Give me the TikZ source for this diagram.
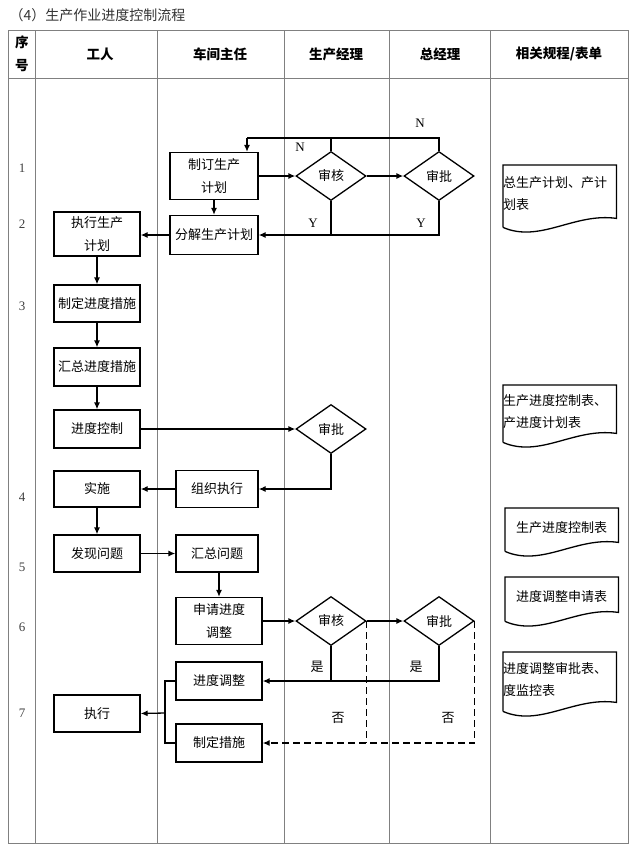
\documentclass[tikz,border=0pt]{standalone}
\usepackage{fontspec}
\setmainfont{Liberation Serif}
\newfontfamily\cjk{Noto Sans CJK SC}
\usetikzlibrary{shapes.geometric, arrows.meta}

\begin{document}
\begin{tikzpicture}[x=1pt, y=-1pt,
        box/.style={draw, line width=1.3pt, align=center, inner sep=0pt,
            minimum width=86pt, minimum height=37pt, font=\cjk\fontsize{13}{23}\selectfont},
        chk/.style={draw, diamond, aspect=1.4, line width=1.3pt, inner sep=0pt,
            minimum width=70pt, minimum height=49pt, font=\cjk\fontsize{13}{15}\selectfont},
        doc/.style={inner sep=0pt, text width=113pt, anchor=north west,
            font=\cjk\fontsize{13}{22}\selectfont},
        flow/.style={line width=1.3pt, -{Latex[length=7pt,width=6pt]}},
        link/.style={line width=1.3pt},
        nodash/.style={dash pattern=on 7pt off 4pt},
        lbl/.style={font=\fontsize{13}{15}\selectfont},
        head/.style={font=\cjk\bfseries\fontsize{13.5}{23}\selectfont, align=center},
        grid/.style={draw=gray, line width=0.8pt}]
        \useasboundingbox (0,0) rectangle (640,849);

        % Draw the table
        \node[anchor=west, text=black!80, font=\cjk\fontsize{14}{16}\selectfont] (title) at (6,15) {（4）生产作业进度控制流程};
        \draw[grid] (8,30) rectangle (628,843);
        \draw[grid] (8,78) -- (628,78);
        \foreach \x in {35,157,284,389,490}
            \draw[grid] (\x,30) -- (\x,843);
        \node[head] (hno) at (22,54) {序\\号};
        \node[head] (hwk) at (100,54) {工人};
        \node[head] (hcj) at (220,54) {车间主任};
        \node[head] (hsc) at (336,54) {生产经理};
        \node[head] (hzj) at (440,54) {总经理};
        \node[head] (hbd) at (559,54) {相关规程/表单};

        % Row numbers
        \foreach \n/\y in {1/168,2/224,3/306,4/497,5/567,6/627,7/713}
            \node[lbl, text=black!75] (row\n) at (22,\y) {\n};

        % Plan
        \node[box, minimum width=88pt, minimum height=47pt] (zd) at (214,176) {制订生产\\计划};
        \node[chk] (sh1) at (331,176) {审核};
        \node[chk] (sp1) at (439,176) {审批};
        \node[box, minimum width=88pt, minimum height=39pt] (fj) at (214,235) {分解生产计划};
        \node[box, minimum height=44pt] (zx) at (97,234) {执行生产\\计划};
        \node[box] (cs1) at (97,303.5) {制定进度措施};
        \node[box, minimum height=38pt] (hz1) at (97,367) {汇总进度措施};
        \node[box, minimum height=38pt] (kz) at (97,429) {进度控制};
        \node[chk] (sp2) at (331,429) {审批};
        \node[box, minimum width=82pt] (zz) at (217,489) {组织执行};
        \node[box, minimum height=36pt] (ss) at (97,489) {实施};
        \node[box] (fx) at (97,553.5) {发现问题};
        \node[box, minimum width=82pt] (hw) at (217,553.5) {汇总问题};
        \node[box, minimum height=47pt] (sq) at (219,621) {申请进度\\调整};
        \node[chk] (sh2) at (331,621) {审核};
        \node[chk] (sp3) at (439,621) {审批};
        \node[box, minimum height=38pt] (tz) at (219,681) {进度调整};
        \node[box, minimum height=38pt] (cs2) at (219,743) {制定措施};
        \node[box] (zx2) at (97,713.5) {执行};

        % Connectors
        \coordinate (nTop) at (247,138);
        \coordinate (br) at (165,713);
        \draw[link] (sp1.north) |- (nTop);
        \draw[flow] (nTop) -- (nTop |- zd.north);
        \draw[link] (sh1.north) -- (sh1.north |- nTop);
        \draw[flow] (zd.east |- sh1.west) -- (sh1.west);
        \draw[flow] (sh1.east) -- (sp1.west);
        \draw[flow] (zd.south) -- (fj.north);
        \draw[flow] (sp1.south) |- (fj.east);
        \draw[link] (sh1.south) -- (sh1.south |- fj.east);
        \draw[flow] (fj.west) -- (fj.west -| zx.east);
        \draw[flow] (zx.south) -- (cs1.north);
        \draw[flow] (cs1.south) -- (hz1.north);
        \draw[flow] (hz1.south) -- (kz.north);
        \draw[flow] (kz.east) -- (sp2.west);
        \draw[flow] (sp2.south) |- (zz.east);
        \draw[flow] (zz.west) -- (ss.east);
        \draw[flow] (ss.south) -- (fx.north);
        \draw[flow] (fx.east) -- (hw.west);
        \draw[flow] (hw.south -| sq.north) -- (sq.north);
        \draw[flow] (sq.east) -- (sh2.west);
        \draw[flow] (sh2.east) -- (sp3.west);
        \draw[flow] (sp3.south) |- (tz.east);
        \draw[link] (sh2.south) -- (sh2.south |- tz.east);
        \draw[flow, nodash] (sp3.east) |- (cs2.east);
        \draw[link, nodash] (sh2.east) -- (sh2.east |- cs2.east);
        \draw[link] (tz.west) -| (br) |- (cs2.west);
        \draw[flow] (br) -- (zx2.east);

        % Labels on the branches
        \node[lbl] (n1) at (300,147) {N};
        \node[lbl] (n2) at (420,123) {N};
        \node[lbl] (y1) at (313,223) {Y};
        \node[lbl] (y2) at (421,223) {Y};
        \node[lbl, font=\cjk\fontsize{13}{15}\selectfont] (s1) at (317,667) {是};
        \node[lbl, font=\cjk\fontsize{13}{15}\selectfont] (s2) at (416,667) {是};
        \node[lbl, font=\cjk\fontsize{13}{15}\selectfont] (f1) at (338,718) {否};
        \node[lbl, font=\cjk\fontsize{13}{15}\selectfont] (f2) at (448,718) {否};

        % Forms
        \node[doc, align=left, minimum height=57pt] (d1) at (503,165) {总生产计划、产计\\划表};
        \node[doc, align=left, minimum height=52pt] (d2) at (503,385) {生产进度控制表、\\产进度计划表};
        \node[doc, align=center, minimum height=38pt] (d3) at (505,508) {生产进度控制表};
        \node[doc, align=center, minimum height=39pt] (d4) at (505,577) {进度调整申请表};
        \node[doc, align=left, minimum height=54pt] (d5) at (503,652) {进度调整审批表、\\度监控表};
        \foreach \d in {d1,d2,d3,d4,d5}
            \draw[line width=1.3pt] ([yshift=-5pt]\d.south west) -- (\d.north west) -- (\d.north east)
                -- ([yshift=4pt]\d.south east)
                .. controls +(-42pt,6pt) and +(37pt,-16pt) .. ([yshift=-5pt]\d.south west);
\end{tikzpicture}
\end{document}
